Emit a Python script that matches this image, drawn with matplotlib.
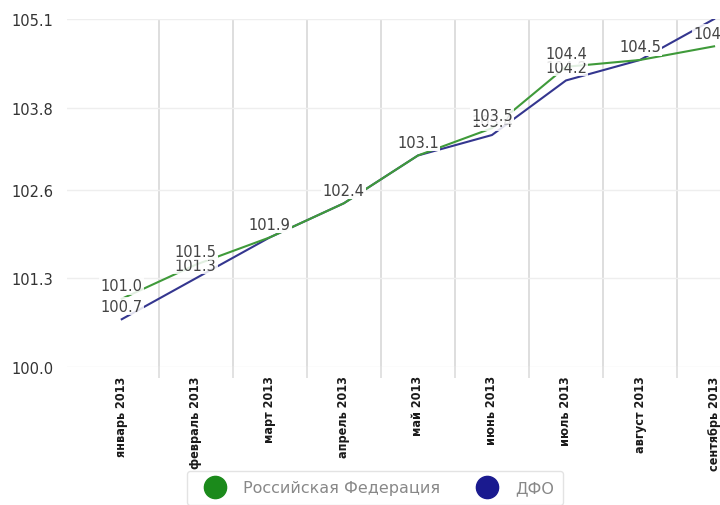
import numpy as np
import matplotlib
matplotlib.use('Agg')
import matplotlib.pyplot as plt

# Данные
months = ['январь 2013', 'февраль 2013', 'март 2013', 'апрель 2013', 'май 2013',
          'июнь 2013', 'июль 2013', 'август 2013', 'сентябрь 2013']
rf = [101.0, 101.5, 101.9, 102.4, 103.1, 103.5, 104.4, 104.5, 104.7]
dfo = [100.7, 101.3, 101.9, 102.4, 103.1, 103.4, 104.2, 104.5, 105.1]
y_ticks = [100.0, 101.3, 102.6, 103.8, 105.1]

green = '#3f9a3a'
blue = '#34368f'

plt.rcParams['font.family'] = ['DejaVu Sans']

fig = plt.figure(figsize=(7.2, 5.06), dpi=100)
ax = fig.add_axes([0.093, 0.2727, 0.907, 0.6877])

x = np.arange(len(months))
ax.plot(x, dfo, color=blue, lw=1.5, zorder=3)
ax.plot(x, rf, color=green, lw=1.5, zorder=3)

# подписи значений над точками (обрезаются по области графика)
for series in (dfo, rf):
    for xi, v in zip(x, series):
        t = ax.annotate(f'{v:.1f}', (xi, v), xytext=(0, 9.5), textcoords='offset points',
                        ha='center', va='center', fontsize=10.5, color='#444444',
                        bbox=dict(boxstyle='square,pad=0.1', fc='white', ec='none', alpha=0.85),
                        zorder=4, annotation_clip=False)
        t.set_clip_box(ax.bbox)
        t.set_clip_on(True)

ax.set_xlim(-0.74, 8.08)
ax.set_ylim(100.0, 105.1)
ax.set_yticks(y_ticks)
ax.set_yticklabels([f'{t:.1f}' for t in y_ticks], fontsize=10.5, color='#333333')
ax.set_xticks(x)
ax.set_xticklabels(months, rotation=90, fontsize=9, color='#1a1a1a',
                   fontweight='bold', fontstretch='condensed')
ax.set_xticks(x[:-1] + 0.5, minor=True)

ax.tick_params(axis='both', which='major', length=0)
ax.tick_params(axis='x', which='major', pad=6)
ax.tick_params(axis='y', pad=10)
ax.tick_params(axis='x', which='minor', length=8, color='#dddddd', width=1.2)
ax.grid(axis='y', color='#eeeeee', lw=1)
ax.grid(axis='x', which='minor', color='#d8d8d8', lw=1.2)
for s in ax.spines.values():
    s.set_visible(False)

h1, = ax.plot([], [], 'o', color='#1b8a1b', ms=16)
h2, = ax.plot([], [], 'o', color='#1a1a8f', ms=16)
leg = fig.legend([h1, h2], ['Российская Федерация', 'ДФО'], loc='center',
                 bbox_to_anchor=(0.521, 0.034), ncol=2, frameon=True, fontsize=11.5,
                 handlelength=2.3, handletextpad=0.6, columnspacing=1.8,
                 borderpad=0.6, fancybox=True)
leg.get_frame().set_edgecolor('#dddddd')
leg.get_frame().set_linewidth(1.0)
for t in leg.get_texts():
    t.set_color('#888888')

fig.savefig('out.png', dpi=100)
